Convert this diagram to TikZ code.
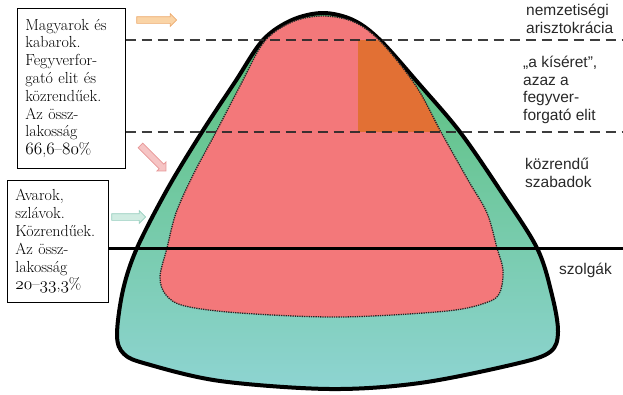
\documentclass[tikz,border=0pt]{standalone}
\usepackage{fontspec}
\newfontfamily\labelfont{Liberation Sans}
\usepackage{tikz}
\usetikzlibrary{shapes.arrows}
\definecolor{HUGreen}{RGB}{86, 190, 116}
\definecolor{HUMid}{RGB}{104, 200, 156}
\definecolor{HUTeal}{RGB}{142, 212, 210}
\definecolor{HURed}{RGB}{243, 120, 122}
\definecolor{HUOrange}{RGB}{226, 112, 52}
\definecolor{HUDark}{RGB}{40, 40, 40}
\newcommand\hunum[1]{{\usefont{OML}{cmm}{m}{it}#1}}

\begin{document}
\begin{tikzpicture}[x=1pt, y=-1pt,
    infobox/.style={draw, fill=white, line width=0.7pt, anchor=north west, align=left,
        font=\fontsize{16}{17.8}\selectfont},
    sidelabel/.style={anchor=west, align=left, text=HUDark, inner sep=0pt,
        font=\labelfont\fontsize{15.5}{17.5}\selectfont},
    blockarrow/.style={single arrow, inner xsep=0pt, inner ysep=3pt, single arrow head extend=3pt,
        line width=0.7pt},
    strata/.style={HUDark, line width=2.5pt, dash pattern=on 10pt off 6pt, opacity=0.9}]
    \useasboundingbox (0,0) rectangle (623,394);

    % Society
    \draw[line width=4pt, top color=HUGreen, middle color=HUMid, bottom color=HUTeal]
        plot[smooth cycle, tension=0.55] coordinates {
        (323,13) (353,20) (380,40) (420,85) (460,132) (500,190) (537,248) (552,295)
        (558,332) (550,352) (515,364) (420,383) (330,389) (220,381) (147,364)
        (124,354) (117,335) (123,290) (137,248) (168,188) (202,132) (235,82) (263,40) (292,20)};

    % Free people, with the armed retinue
    \draw[fill=HURed, draw=black!85, densely dotted, line width=1.3pt,
        path picture={\fill[HUOrange] (358,40) rectangle (600,132);}]
        plot[smooth cycle, tension=0.55] coordinates {
        (323,16) (354,22) (381,42) (416,86) (441,132) (468,180) (487,213) (497,248)
        (503,270) (500,292) (488,302) (447,311) (340,317) (240,313) (185,306)
        (166,295) (160,277) (167,248) (176,213) (193,175) (216,132) (240,86) (264,42) (292,22)};

    % Boxes
    \node[infobox, minimum width=108pt, minimum height=160pt, text width=92pt, inner xsep=8pt]
        (magyar) at (17,8) {Magyarok és\\kabarok.\\Fegyverfor-\\gató elit és\\közrendűek.\\Az össz-\\lakosság\\\hunum{66},\hunum{6}–\hunum{80}\%};
    \node[infobox, minimum width=101pt, minimum height=122pt, text width=85pt, inner xsep=8pt]
        (avar) at (7,180) {Avarok,\\szlávok.\\Közrendűek.\\Az össz-\\lakosság\\\hunum{20}–\hunum{33},\hunum{3}\%};

    % Layer lines
    \coordinate (topend) at (623,40);
    \coordinate (midend) at (623,132);
    \coordinate (lowend) at (623,248);
    \draw[strata] (magyar.east |- topend) -- (topend);
    \draw[strata] (magyar.east |- midend) -- (midend);
    \draw[line width=3pt] (avar.east |- lowend) -- (lowend);

    % Arrows
    \node[blockarrow, minimum height=40pt, fill={rgb,255:red,250;green,212;blue,166},
        draw={rgb,255:red,236;green,170;blue,110}] (toparrow) at (155,20) {};
    \node[blockarrow, minimum height=36pt, rotate=-45, fill={rgb,255:red,246;green,196;blue,196},
        draw={rgb,255:red,230;green,150;blue,150}] (midarrow) at (152,157) {};
    \node[blockarrow, minimum height=34pt, fill={rgb,255:red,208;green,236;blue,226},
        draw={rgb,255:red,150;green,206;blue,190}] (lowarrow) at (127,217) {};

    % Labels
    \node[sidelabel] (nobles) at (526,19) {nemzetiségi\\arisztokrácia};
    \node[sidelabel] (retinue) at (523,90) {„a kíséret”,\\azaz a\\fegyver-\\forgató elit};
    \node[sidelabel] (commons) at (525,173) {közrendű\\szabadok};
    \node[sidelabel] (servants) at (559,270) {szolgák};
\end{tikzpicture}
\end{document}
